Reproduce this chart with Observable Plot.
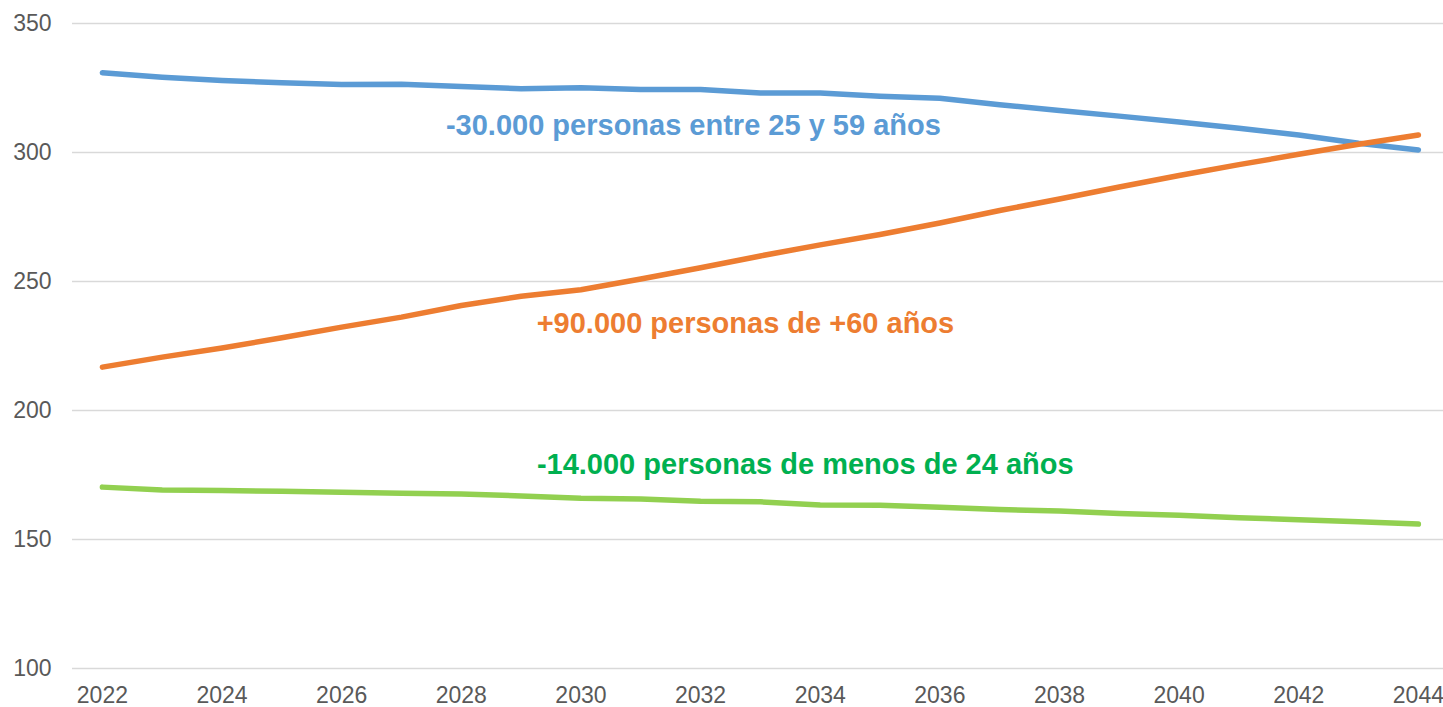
<!DOCTYPE html>
<html>
<head>
<meta charset="utf-8">
<script src="https://cdn.jsdelivr.net/npm/d3@7"></script>
<script src="https://cdn.jsdelivr.net/npm/@observablehq/plot@0.6"></script>
<style>
  html, body { margin: 0; padding: 0; background: #ffffff; }
  #chart { width: 1443px; height: 707px; }
</style>
</head>
<body>
<div id="chart"></div>
<script>
// ---- Data (thousands of persons) ----
const years = [2022,2023,2024,2025,2026,2027,2028,2029,2030,2031,2032,2033,2034,2035,2036,2037,2038,2039,2040,2041,2042,2043,2044];
const adults25to59 = [330.9,329.2,327.9,327.0,326.4,326.5,325.6,324.7,325.1,324.4,324.4,323.1,323.1,321.8,321.0,318.5,316.3,314.1,311.8,309.4,306.8,303.6,301.0];
const seniors60plus = [216.8,220.7,224.2,228.2,232.3,236.2,240.7,244.3,246.8,251.0,255.3,259.9,264.2,268.2,272.7,277.5,282.0,286.6,291.1,295.3,299.3,303.2,306.8];
const youngUnder24 = [170.3,169.2,169.0,168.7,168.3,167.9,167.6,166.9,166.0,165.7,164.8,164.6,163.4,163.3,162.5,161.6,161.0,160.1,159.4,158.4,157.7,156.9,156.0];
const seriesNames = ["25-59", "60+", "<24"];
const annotationTexts = [
  "-30.000 personas entre 25 y 59 años",
  "+90.000 personas de +60 años",
  "-14.000 personas de menos de 24 años"
];
const yTicks = [100, 150, 200, 250, 300, 350];
const xTicks = [2022, 2024, 2026, 2028, 2030, 2032, 2034, 2036, 2038, 2040, 2042, 2044];

// ---- Styling / layout ----
const lineColors = ["#5B9BD5", "#ED7D31", "#92D050"];
const textColors = ["#5B9BD5", "#ED7D31", "#00B050"];
// annotation anchors in data coordinates (year, value)
const annotationAnchors = [[2031.88, 310.3], [2032.75, 233.8], [2033.75, 178.8]];

const seriesValues = [adults25to59, seniors60plus, youngUnder24];
const rows = seriesValues.flatMap((vals, s) =>
  vals.map((v, i) => ({ year: years[i], value: v, series: seriesNames[s] }))
);
const annotations = annotationTexts.map((t, i) => ({
  text: t, year: annotationAnchors[i][0], value: annotationAnchors[i][1], color: textColors[i]
}));

const chart = Plot.plot({
  width: 1443,
  height: 707,
  marginLeft: 72,
  marginRight: 0,
  marginTop: 23,
  marginBottom: 39,
  style: { fontFamily: "Liberation Sans, Arial, sans-serif", background: "#ffffff" },
  x: { domain: [2021.5, 2044.42], label: null },
  y: { domain: [100, 350], label: null },
  color: { domain: seriesNames, range: lineColors },
  marks: [
    Plot.ruleY(yTicks, { stroke: "#D9D9D9", strokeWidth: 1.5 }),
    Plot.axisY(yTicks, {
      tickSize: 0, tickPadding: 21, fontSize: 23, fill: "#595959", label: null
    }),
    Plot.axisX(xTicks, {
      tickSize: 0, tickPadding: 18, fontSize: 23, fill: "#595959",
      tickFormat: d => String(d), label: null
    }),
    Plot.line(rows, {
      x: "year", y: "value", z: "series", stroke: "series",
      strokeWidth: 5.5, strokeLinecap: "round", strokeLinejoin: "round"
    }),
    Plot.text(annotations, {
      x: "year", y: "value", text: "text", fill: "color",
      fontSize: 29, fontWeight: "bold", textAnchor: "middle", lineAnchor: "middle"
    })
  ]
});
document.getElementById("chart").appendChild(chart);
</script>
</body>
</html>
